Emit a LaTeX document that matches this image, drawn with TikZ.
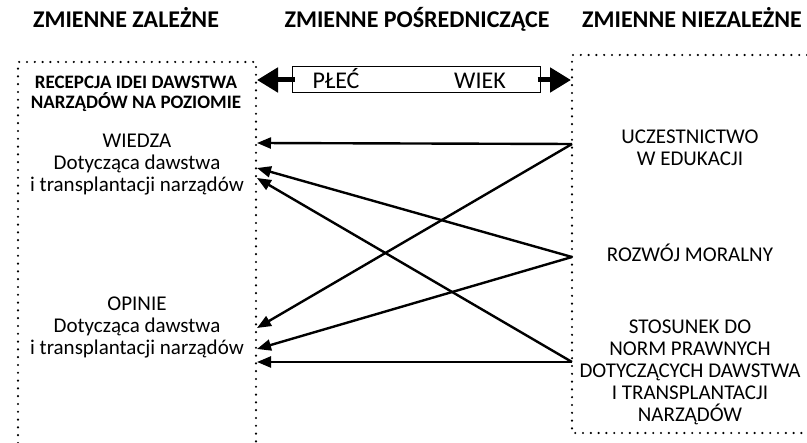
\documentclass[tikz,border=0pt]{standalone}
\usepackage{fontspec}
\setmainfont{Carlito}
\usetikzlibrary{arrows.meta}

\begin{document}
\begin{tikzpicture}[x=1pt,y=-1pt,
                    every node/.style={inner sep=0pt,
                                       font=\fontsize{21}{22}\selectfont},
                    header/.style={anchor=base,
                                   font=\fontsize{24}{26}\selectfont\bfseries},
                    title/.style={font=\fontsize{19}{20}\selectfont\bfseries},
                    box/.style={dash pattern=on 0pt off 7.8pt,
                                line cap=round, line width=2.4pt},
                    link/.style={line width=2.4pt,
                                 -{Triangle[length=14pt,width=11pt]}},
                    bigarrow/.style={line width=5pt,
                                     -{Triangle[length=21pt,width=24pt]}},]
    \useasboundingbox (0,0) rectangle (807,443);
    % headers
    \node[header] (hdep) at (126,28) {ZMIENNE ZALEŻNE};
    \node[header] (hmed) at (417,28) {ZMIENNE POŚREDNICZĄCE};
    \node[header] (hind) at (692,28) {ZMIENNE NIEZALEŻNE};
    % dotted frames
    \draw[box] (18,443) |- (256,62) -- (256,443);
    \draw[box] (807,55) -| (572,433) -- (807,433);
    % mediating variables
    \node[draw, line width=1pt, minimum width=248pt, minimum height=26pt] (pw) at (416,80) {};
    \node[anchor=base, font=\fontsize{24}{26}\selectfont] (plec) at (336,89) {PŁEĆ};
    \node[anchor=base, font=\fontsize{24}{26}\selectfont] (wiek) at (480,89) {WIEK};
    \coordinate (ml) at (257,80);
    \coordinate (mr) at (571,80);
    \draw[bigarrow] ([xshift=3pt]pw.west) -- (ml);
    \draw[bigarrow] ([xshift=-3pt]pw.east) -- (mr);
    % dependent variables
    \node[title, align=center] (recep) at (136,94) {RECEPCJA IDEI DAWSTWA\\NARZĄDÓW NA POZIOMIE};
    \node[align=center] (wiedza) at (137,165) {WIEDZA\\Dotycząca dawstwa\\i transplantacji narządów};
    \node[align=center] (opinie) at (137,327) {OPINIE\\Dotycząca dawstwa\\i transplantacji narządów};
    % independent variables
    \node[align=center] (edu) at (690,148) {UCZESTNICTWO\\W EDUKACJI};
    \node (moral) at (690,253) {ROZWÓJ MORALNY};
    \node[align=center] (norm) at (690,372) {STOSUNEK DO\\NORM PRAWNYCH\\DOTYCZĄCYCH DAWSTWA\\I TRANSPLANTACJI\\NARZĄDÓW};
    % arrow ends
    \coordinate (eduout) at (572,144);
    \coordinate (moralout) at (572,257);
    \coordinate (normout) at (572,362);
    \coordinate (wiedzaA) at (257,143);
    \coordinate (wiedzaB) at (257,168);
    \coordinate (wiedzaC) at (257,178);
    \coordinate (opinieA) at (257,328);
    \coordinate (opinieB) at (257,349);
    \coordinate (opinieC) at (257,362);
    \draw[link] (eduout) -- (wiedzaA);
    \draw[link] (eduout) -- (opinieA);
    \draw[link] (moralout) -- (wiedzaB);
    \draw[link] (moralout) -- (opinieB);
    \draw[link] (normout) -- (opinieC);
    \draw[link] (normout) -- (wiedzaC);
\end{tikzpicture}
\end{document}
